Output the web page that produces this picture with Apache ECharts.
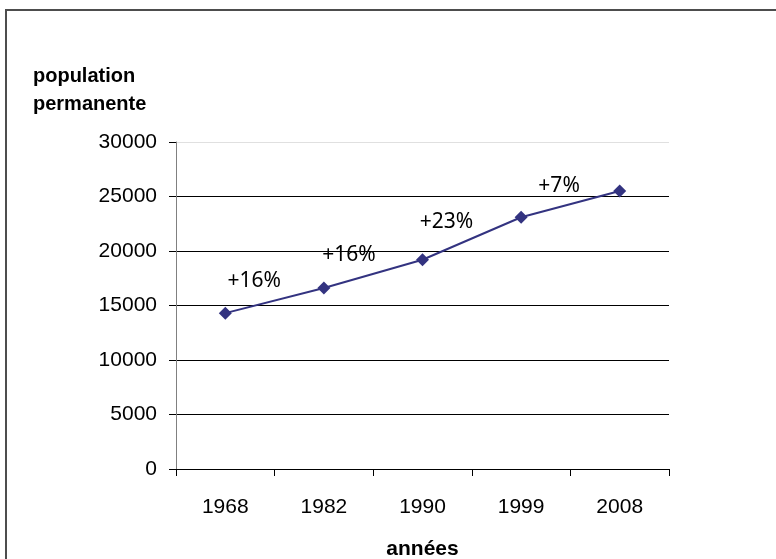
<!DOCTYPE html>
<html><head><meta charset="utf-8">
<script src="https://cdn.jsdelivr.net/npm/echarts@6/dist/echarts.min.js"></script>
<style>html,body{margin:0;padding:0;background:#fff}#c{width:776px;height:559px}</style>
</head><body><div id="c"></div>
<script>
var categories = ['1968', '1982', '1990', '1999', '2008'];
var population = [14300, 16600, 19200, 23100, 25500];
var growthLabels = ['+16%', '+16%', '+23%', '+7%', ''];
var labelOffsets = [[29, -32], [25, -33], [24, -38], [38, -31], [0, 0]];

var chart = echarts.init(document.getElementById('c'), null, {renderer: 'canvas'});
var data = population.map(function (v, i) {
  return {
    value: v,
    label: {show: growthLabels[i] !== '', formatter: growthLabels[i], offset: labelOffsets[i]}
  };
});
chart.setOption({
  animation: false,
  backgroundColor: '#fff',
  graphic: [{
    type: 'rect', shape: {x: 6, y: 10, width: 800, height: 600},
    style: {fill: 'none', stroke: '#4d4d4d', lineWidth: 2}, silent: true
  }, {
    type: 'text', left: 33, top: 62,
    style: {text: 'population\npermanente', font: 'bold 20px "Liberation Sans", Arial', fill: '#000', lineHeight: 28}
  }],
  grid: {left: 176, right: 107, top: 142, bottom: 90, containLabel: false, outerBoundsMode: 'none'},
  xAxis: {
    type: 'category', data: categories, boundaryGap: true,
    name: 'années', nameLocation: 'middle', nameGap: 70,
    nameTextStyle: {fontFamily: 'Liberation Sans', fontWeight: 'bold', fontSize: 21, color: '#000'},
    axisLine: {lineStyle: {color: '#000', width: 1}},
    axisTick: {show: true, length: 7, lineStyle: {color: '#000'}, alignWithLabel: false},
    axisLabel: {fontFamily: 'Liberation Sans', fontSize: 21, color: '#000', margin: 28}
  },
  yAxis: {
    type: 'value', min: 0, max: 30000, interval: 5000,
    axisLine: {show: true, lineStyle: {color: '#808080', width: 1}},
    axisTick: {show: true, length: 7, lineStyle: {color: '#000'}},
    axisLabel: {fontFamily: 'Liberation Sans', fontSize: 21, color: '#000', margin: 19, formatter: function (v) { return String(v); }},
    splitLine: {show: true, lineStyle: {color: ['#000', '#000', '#000', '#000', '#000', '#000', '#e0e0e0'], width: 1}}
  },
  series: [{
    type: 'line', data: data,
    symbol: 'diamond', symbolSize: 13,
    lineStyle: {color: '#333380', width: 2},
    itemStyle: {color: '#333380'},
    label: {position: 'inside', fontFamily: 'Noto Sans', fontSize: 21, color: '#000'}
  }]
});
</script></body></html>
